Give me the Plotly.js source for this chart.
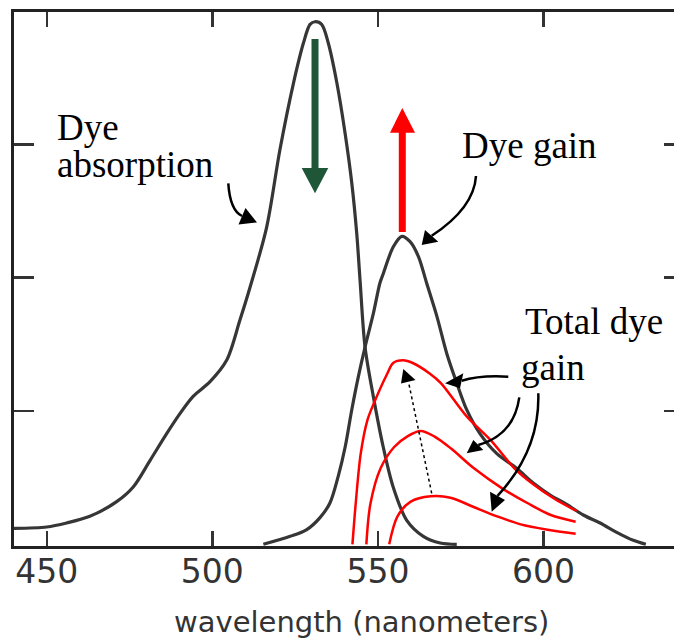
<!DOCTYPE html>
<html><head><meta charset="utf-8">
<script src="https://cdn.plot.ly/plotly-3.0.1.min.js"></script>
<style>html,body{margin:0;padding:0;background:#fff;overflow:hidden}#chart{width:674px;height:643px}</style>
</head><body><div id="chart"></div>
<script>
// ---- data ----
const absNm = [440.1, 450.0, 456.0, 463.0, 471.1, 476.1, 481.2, 486.2, 490.2, 494.2, 499.3, 504.3, 508.3, 511.4, 516.4, 520.4, 524.5, 527.5, 529.5, 531.0, 533.0, 535.0, 537.6, 540.1, 542.1, 543.6, 544.6, 546.1, 548.6, 551.6, 554.6, 558.7, 563.7, 568.8, 573.8];
const absY  = [0.12, 0.13, 0.16, 0.21, 0.32, 0.43, 0.63, 0.83, 0.98, 1.11, 1.22, 1.38, 1.68, 1.93, 2.38, 2.96, 3.46, 3.76, 3.90, 3.92, 3.90, 3.76, 3.46, 3.08, 2.71, 2.33, 1.98, 1.48, 1.11, 0.73, 0.43, 0.18, 0.06, 0.01, 0.0];

const gainNm = [515.4, 523.5, 528.5, 532.5, 535.5, 538.0, 540.1, 542.1, 544.1, 546.1, 548.6, 550.6, 551.6, 554.6, 557.2, 559.7, 562.2, 564.7, 567.8, 570.8, 573.8, 576.8, 580.8, 585.9, 591.9, 596.9, 602.0, 607.0, 612.0, 617.1, 622.1, 627.1, 630.9];
const gainY  = [0.0, 0.06, 0.11, 0.20, 0.31, 0.51, 0.73, 1.01, 1.26, 1.48, 1.73, 1.96, 2.03, 2.23, 2.31, 2.27, 2.16, 1.96, 1.71, 1.43, 1.21, 1.01, 0.83, 0.68, 0.57, 0.46, 0.37, 0.30, 0.22, 0.16, 0.09, 0.03, 0.0];

const totalHighNm = [542.3, 543.3, 544.8, 546.8, 548.8, 552.8, 554.6, 557.6, 560.5, 565.7, 569.0, 576.8, 584.1, 591.2, 596.9, 603.4, 610.0];
const totalHighY  = [0.0, 0.31, 0.68, 0.93, 1.06, 1.28, 1.36, 1.38, 1.36, 1.28, 1.21, 0.96, 0.78, 0.57, 0.45, 0.34, 0.25];

const totalMidNm = [546.5, 547.7, 550.8, 554.9, 558.9, 562.9, 567.0, 572.0, 579.0, 587.5, 595.1, 602.2, 609.7];
const totalMidY  = [0.0, 0.30, 0.57, 0.73, 0.81, 0.85, 0.81, 0.72, 0.57, 0.42, 0.31, 0.22, 0.17];

const totalLowNm = [553.4, 555.9, 559.9, 565.9, 571.9, 578.9, 586.0, 593.1, 601.2, 609.7];
const totalLowY  = [0.0, 0.21, 0.32, 0.36, 0.35, 0.28, 0.21, 0.15, 0.11, 0.08];

const xTicks = [450, 500, 550, 600];
const xTickText = ['450', '500', '550', '600'];
const yTicks = [1, 2, 3];

// ---- geometry helpers (for annotation placement only) ----
const XR = [440.1, 639.4], YR = [-0.0125, 3.993];
const L = 14, R = 674, T = 12, B = 546;
const X = px => XR[0] + (px - L) / (R - L) * (XR[1] - XR[0]);
const Y = py => YR[0] + (B - py) / (B - T) * (YR[1] - YR[0]);
const P = (a, b) => X(a) + ',' + Y(b);

const GRAY = '#363636', RED = '#ff0000', GREEN = '#1f5638';

function line(x, y, color, w) {
  return {x: x, y: y, type: 'scatter', mode: 'lines', hoverinfo: 'skip',
          line: {color: color, width: w, shape: 'spline', smoothing: 0.9}};
}
const traces = [
  line(absNm, absY, GRAY, 3.2),
  line(gainNm, gainY, GRAY, 3.2),
  line(totalHighNm, totalHighY, RED, 2.5),
  line(totalMidNm, totalMidY, RED, 2.5),
  line(totalLowNm, totalLowY, RED, 2.5),
  {x: [], y: [], yaxis: 'y2', type: 'scatter', mode: 'lines', hoverinfo: 'skip'}
];

const shapes = [];
function tri(a, b, c, color) {
  shapes.push({type: 'path', xref: 'x', yref: 'y', layer: 'above',
    path: 'M' + P(a[0], a[1]) + 'L' + P(b[0], b[1]) + 'L' + P(c[0], c[1]) + 'Z',
    fillcolor: color, line: {width: 0}});
}
function straight(x0, y0, x1, y1, color, w, dash) {
  shapes.push({type: 'line', xref: 'x', yref: 'y', layer: 'above',
    x0: X(x0), y0: Y(y0), x1: X(x1), y1: Y(y1), line: {color: color, width: w, dash: dash || 'solid'}});
}
function curve(s, c, e) {
  shapes.push({type: 'path', xref: 'x', yref: 'y', layer: 'above',
    path: 'M' + P(s[0], s[1]) + 'Q' + P(c[0], c[1]) + ' ' + P(e[0], e[1]),
    line: {color: '#000', width: 2.5}});
}
// green (absorption decreases)
straight(315, 39, 315, 170, GREEN, 7);
tri([301.7, 168], [328.3, 168], [315, 193.3], GREEN);
// red (gain increases)
straight(402.3, 232, 402.3, 130, RED, 7);
tri([390, 132.7], [415, 132.7], [402.3, 108], RED);
// curved black pointers
curve([228.3, 183.3], [230, 210], [242, 216]);
tri([238.5, 224.5], [245.5, 208], [257, 222.5], '#000');
curve([476, 176], [474, 208], [431.7, 235.8]);
tri([425, 230], [438.3, 241.7], [421.7, 245], '#000');
curve([508.3, 376.7], [480, 375], [461.7, 380.8]);
tri([463.3, 373.3], [460, 388.3], [445, 383.3], '#000');
curve([519.3, 397.3], [514, 435], [478.3, 445]);
tri([473.3, 440], [483.3, 450], [466.7, 453.3], '#000');
curve([538.3, 393.3], [540, 450], [497.5, 495.8]);
tri([490, 491.7], [505, 500], [491.7, 511.7], '#000');
// dotted arrow
straight(431.7, 493.3, 408.5, 382, '#000', 1.5, 'dot');
tri([401, 383.5], [415.5, 380], [403.3, 369], '#000');

const SERIF = {family: 'Liberation Serif, Times New Roman, serif', size: 37, color: '#000'};
function txt(s, px, py) {
  return {text: s, x: X(px), y: Y(py), xref: 'x', yref: 'y', xanchor: 'left', yanchor: 'middle',
          showarrow: false, font: SERIF};
}
const annotations = [
  txt('Dye', 55, 127.5),
  txt('absorption', 55, 164.5),
  txt('Dye gain', 460, 145.5),
  txt('Total dye', 523, 321),
  txt('gain', 519, 367.5),
  {text: 'wavelength (nanometers)', x: (362 - L) / (R - L), y: (B - 622.4) / (B - T),
   xref: 'paper', yref: 'paper',
   xanchor: 'center', yanchor: 'middle', showarrow: false,
   font: {family: 'DejaVu Sans', size: 29, color: '#333'}}
];

const layout = {
  width: 674, height: 643,
  margin: {l: L, r: 674 - R, t: T, b: 643 - B, pad: 0},
  paper_bgcolor: '#fff', plot_bgcolor: '#fff', showlegend: false,
  xaxis: {range: XR, tickmode: 'array', tickvals: xTicks, ticktext: xTickText,
    ticks: 'inside', ticklen: 15, tickwidth: 2.5, tickcolor: '#333',
    showline: true, linewidth: 3.2, linecolor: '#222', mirror: 'ticks',
    showgrid: false, zeroline: false, ticklabelstandoff: -6,
    tickfont: {family: 'DejaVu Sans', size: 33, color: '#333'}},
  yaxis: {range: YR, tickmode: 'array', tickvals: yTicks, ticks: 'inside', ticklen: 20, tickwidth: 2.5,
    tickcolor: '#333', showticklabels: false, showline: true, linewidth: 3.2, linecolor: '#222',
    showgrid: false, zeroline: false},
  yaxis2: {overlaying: 'y', side: 'right', anchor: 'x', range: YR, tickmode: 'array', tickvals: yTicks,
    ticks: 'inside', ticklen: 10, tickwidth: 2.5, tickcolor: '#333', showticklabels: false,
    showline: false, showgrid: false, zeroline: false},
  shapes: shapes,
  annotations: annotations
};
Plotly.newPlot('chart', traces, layout, {staticPlot: true, displayModeBar: false});
</script></body></html>
